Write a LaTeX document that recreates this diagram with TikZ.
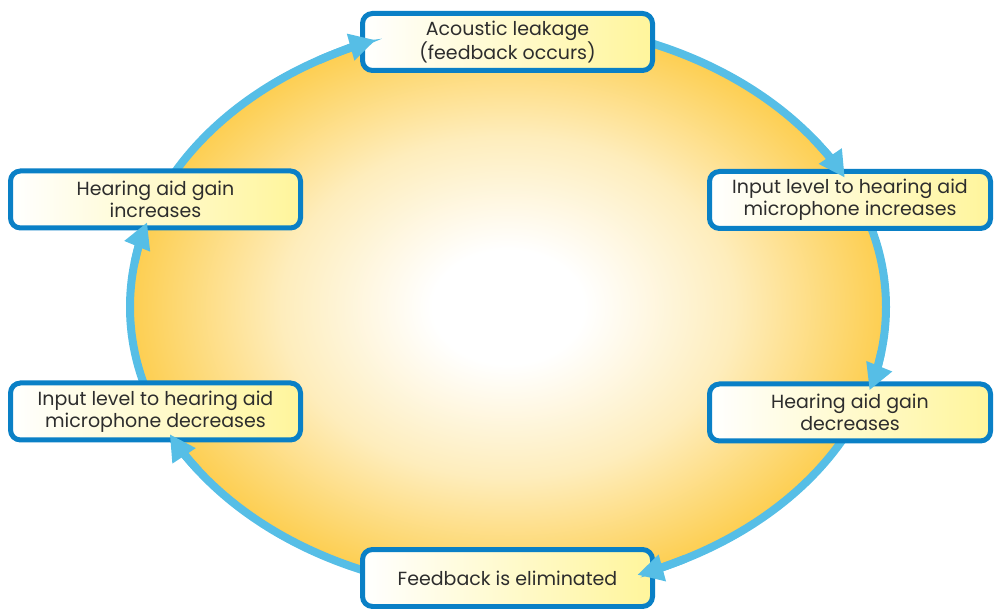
\documentclass[tikz,border=0pt]{standalone}
\usepackage{fontspec}
\setmainfont{Poppins}
\usetikzlibrary{arrows.meta,calc}
\definecolor{ringblue}{RGB}{86,190,230}
\definecolor{boxblue}{RGB}{10,128,198}
\definecolor{ovalorange}{RGB}{253,206,80}
\definecolor{ovalmid}{RGB}{254,237,188}
\definecolor{boxyellow}{RGB}{255,245,155}
\definecolor{txt}{RGB}{45,45,45}
\pgfdeclareradialshading{ovalshade}{\pgfpoint{0bp}{0bp}}{color(0bp)=(white); color(5bp)=(white); color(15bp)=(ovalmid); color(25bp)=(ovalorange); color(50bp)=(ovalorange)}
\begin{document}
\begin{tikzpicture}[x=1pt,y=-1pt,
  stagebox/.style={draw=boxblue, line width=5pt, rounded corners=10pt,
    left color=white, right color=boxyellow,
    minimum width=290pt, minimum height=57pt, align=center, text=txt,
    font=\fontsize{19}{22}\selectfont, inner sep=0pt},
  ringline/.style={draw=ringblue, line width=8pt},
  tipline/.style={ringline, -{Triangle[length=26pt,width=26pt]}}]
\useasboundingbox (0,0) rectangle (994,609);
\coordinate (c) at (508,307);
\shade[shading=ovalshade] (c) ellipse [x radius=378, y radius=285];
\draw[ringline] (c) ellipse [x radius=378, y radius=285];

\node[stagebox] (leak) at (507.5,42) {Acoustic leakage\\(feedback occurs)};
\node[stagebox, minimum width=281pt] (inc) at (850,200) {Input level to hearing aid\\microphone increases};
\node[stagebox, minimum width=281pt] (gdec) at (850,412.5) {Hearing aid gain\\decreases};
\node[stagebox] (elim) at (507.5,578) {Feedback is eliminated};
\node[stagebox] (idec) at (155.5,411.5) {Input level to hearing aid\\microphone decreases};
\node[stagebox] (ginc) at (155.5,199.5) {Hearing aid gain\\increases};

\draw[tipline] ($(c)+(240:378 and 285)$) arc[start angle=240, end angle=249.5, x radius=378, y radius=285];
\draw[tipline] ($(c)+(324:378 and 285)$) arc[start angle=324, end angle=333, x radius=378, y radius=285];
\draw[tipline] ($(c)+(9:378 and 285)$) arc[start angle=9, end angle=17, x radius=378, y radius=285];
\draw[tipline] ($(c)+(62:378 and 285)$) arc[start angle=62, end angle=70, x radius=378, y radius=285];
\draw[tipline] ($(c)+(145:378 and 285)$) arc[start angle=145, end angle=153.5, x radius=378, y radius=285];
\draw[tipline] ($(c)+(189:378 and 285)$) arc[start angle=189, end angle=197.3, x radius=378, y radius=285];
\end{tikzpicture}
\end{document}
